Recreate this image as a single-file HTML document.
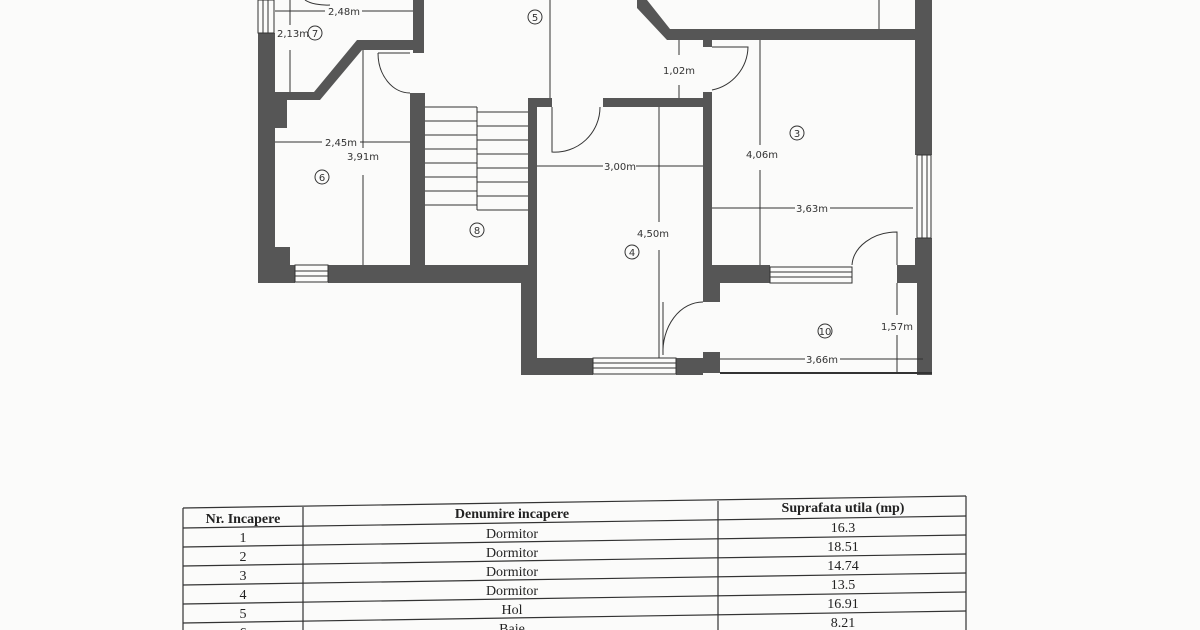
<!DOCTYPE html>
<html><head><meta charset="utf-8"><style>
html,body{margin:0;padding:0;background:#fbfbfa;}
svg{display:block}
.w{fill:#565656}
.l{stroke:#333;stroke-width:1;fill:none}
.t{font-family:"DejaVu Sans","Liberation Sans",sans-serif;font-size:10px;fill:#333}
.tb{font-family:"Liberation Serif",serif;font-size:14px;fill:#222}
</style></head><body>
<svg width="1200" height="630" viewBox="0 0 1200 630" xmlns="http://www.w3.org/2000/svg">
<rect width="1200" height="630" fill="#fbfbfa"/>
<!-- walls -->
<g class="w">
<rect x="258" y="33" width="17" height="250"/>
<rect x="275" y="100" width="12" height="28"/>
<rect x="275" y="247" width="15" height="18"/>
<rect x="258" y="265" width="37" height="18"/>
<rect x="328" y="265" width="209" height="18"/>
<rect x="410" y="93" width="15" height="172"/>
<rect x="413" y="0" width="11" height="53"/>
<polygon points="275,92 314,92 357,40 413,40 413,50 362,50 320,100 275,100"/>
<rect x="528" y="98" width="9" height="170"/>
<rect x="537" y="98" width="15" height="9"/>
<rect x="603" y="98" width="109" height="9"/>
<rect x="703" y="92" width="9" height="175"/>
<rect x="703" y="40" width="9" height="7"/>
<rect x="521" y="265" width="16" height="110"/>
<rect x="521" y="358" width="72" height="17"/>
<rect x="676" y="358" width="27" height="17"/>
<rect x="703" y="352" width="17" height="21"/>
<rect x="703" y="265" width="67" height="18"/>
<rect x="703" y="265" width="17" height="37"/>
<rect x="897" y="265" width="35" height="18"/>
<rect x="917" y="283" width="15" height="92"/>
<polygon points="637,0 647,0 670,29 918,29 918,40 667,40 637,8"/>
<rect x="915" y="0" width="17" height="155"/>
<rect x="915" y="238" width="17" height="30"/>
</g>
<!-- windows -->
<g class="l">
<rect x="258" y="0" width="16" height="33"/><line x1="263" y1="0" x2="263" y2="33"/><line x1="268" y1="0" x2="268" y2="33"/>
<rect x="295" y="265" width="33" height="17"/><line x1="295" y1="271" x2="328" y2="271"/><line x1="295" y1="276" x2="328" y2="276"/>
<rect x="593" y="358" width="83" height="16"/><line x1="593" y1="363" x2="676" y2="363"/><line x1="593" y1="368" x2="676" y2="368"/>
<rect x="770" y="267" width="82" height="16"/><line x1="770" y1="272" x2="852" y2="272"/><line x1="770" y1="277" x2="852" y2="277"/>
<rect x="917" y="155" width="14" height="83"/><line x1="922" y1="155" x2="922" y2="238"/><line x1="927" y1="155" x2="927" y2="238"/>
<line x1="720" y1="373" x2="932" y2="373" style="stroke-width:2"/>
<!-- doors -->
<path d="M378,53 A32,40 0 0 0 410,93"/><line x1="378" y1="53" x2="410" y2="53"/>
<path d="M552,107 L552,152 A45,45 0 0 0 600,107"/>
<path d="M712,47 L748,47 A45,45 0 0 1 712,90"/>
<path d="M663,355 A40,50 0 0 1 703,302"/><line x1="663" y1="302" x2="663" y2="355"/>
<path d="M852,265 A45,35 0 0 1 897,232 L897,265"/>
<path d="M305,0 A25,10 0 0 0 330,5"/>
<!-- stairs -->
<g>
<line x1="425" y1="107" x2="477" y2="107"/><line x1="425" y1="121" x2="477" y2="121"/><line x1="425" y1="135" x2="477" y2="135"/><line x1="425" y1="149" x2="477" y2="149"/><line x1="425" y1="163" x2="477" y2="163"/><line x1="425" y1="177" x2="477" y2="177"/><line x1="425" y1="191" x2="477" y2="191"/><line x1="425" y1="205" x2="477" y2="205"/>
<line x1="477" y1="107" x2="477" y2="210"/>
<line x1="477" y1="112" x2="528" y2="112"/><line x1="477" y1="126" x2="528" y2="126"/><line x1="477" y1="140" x2="528" y2="140"/><line x1="477" y1="154" x2="528" y2="154"/><line x1="477" y1="168" x2="528" y2="168"/><line x1="477" y1="182" x2="528" y2="182"/><line x1="477" y1="196" x2="528" y2="196"/><line x1="477" y1="210" x2="528" y2="210"/>
</g>
<!-- dimension lines -->
<line x1="275" y1="11" x2="325" y2="11"/><line x1="362" y1="11" x2="413" y2="11"/>
<line x1="290" y1="0" x2="290" y2="25"/><line x1="290" y1="50" x2="290" y2="92"/>
<line x1="275" y1="142" x2="322" y2="142"/><line x1="360" y1="142" x2="410" y2="142"/>
<line x1="363" y1="50" x2="363" y2="148"/><line x1="363" y1="175" x2="363" y2="265"/>
<line x1="550" y1="0" x2="550" y2="98"/>
<line x1="537" y1="166" x2="603" y2="166"/><line x1="636" y1="166" x2="703" y2="166"/>
<line x1="659" y1="107" x2="659" y2="222"/><line x1="659" y1="250" x2="659" y2="358"/>
<line x1="679" y1="40" x2="679" y2="55"/><line x1="679" y1="85" x2="679" y2="98"/>
<line x1="760" y1="40" x2="760" y2="145"/><line x1="760" y1="170" x2="760" y2="265"/>
<line x1="712" y1="208" x2="795" y2="208"/><line x1="830" y1="208" x2="913" y2="208"/>
<line x1="879" y1="0" x2="879" y2="29"/>
<line x1="720" y1="359" x2="805" y2="359"/><line x1="840" y1="359" x2="923" y2="359"/>
<line x1="897" y1="283" x2="897" y2="315"/><line x1="897" y1="335" x2="897" y2="373"/>
<!-- circles -->
<circle cx="315" cy="33" r="7"/><circle cx="322" cy="177" r="7"/><circle cx="477" cy="230" r="7"/>
<circle cx="535" cy="17" r="7"/><circle cx="632" cy="252" r="7"/><circle cx="797" cy="133" r="7"/><circle cx="825" cy="331" r="7"/>
</g>
<g class="t" text-anchor="middle">
<text x="344" y="15">2,48m</text>
<text x="293" y="37">2,13m</text>
<text x="315" y="37">7</text>
<text x="341" y="146">2,45m</text>
<text x="363" y="160">3,91m</text>
<text x="322" y="181">6</text>
<text x="477" y="234">8</text>
<text x="535" y="21">5</text>
<text x="679" y="74">1,02m</text>
<text x="620" y="170">3,00m</text>
<text x="653" y="237">4,50m</text>
<text x="632" y="256">4</text>
<text x="762" y="158">4,06m</text>
<text x="797" y="137">3</text>
<text x="812" y="212">3,63m</text>
<text x="825" y="335">10</text>
<text x="897" y="330">1,57m</text>
<text x="822" y="363">3,66m</text>
</g>
<!-- table -->
<g stroke="#333" stroke-width="1.2" fill="none">
<line x1="183" y1="508" x2="966" y2="496"/>
<line x1="183" y1="508" x2="183" y2="630"/>
<line x1="303" y1="507" x2="303" y2="630"/>
<line x1="718" y1="501" x2="718" y2="630"/>
<line x1="966" y1="496" x2="966" y2="630"/>
<line x1="183" y1="528" x2="966" y2="516"/>
<line x1="183" y1="547" x2="966" y2="535"/>
<line x1="183" y1="566" x2="966" y2="554"/>
<line x1="183" y1="585" x2="966" y2="573"/>
<line x1="183" y1="604" x2="966" y2="592"/>
<line x1="183" y1="623" x2="966" y2="611"/>
</g>
<g class="tb" text-anchor="middle">
<text x="243" y="523" font-weight="bold">Nr. Incapere</text>
<text x="512" y="518" font-weight="bold">Denumire incapere</text>
<text x="843" y="512" font-weight="bold">Suprafata utila (mp)</text>
<text x="243" y="542">1</text><text x="512" y="538">Dormitor</text><text x="843" y="532">16.3</text>
<text x="243" y="561">2</text><text x="512" y="557">Dormitor</text><text x="843" y="551">18.51</text>
<text x="243" y="580">3</text><text x="512" y="576">Dormitor</text><text x="843" y="570">14.74</text>
<text x="243" y="599">4</text><text x="512" y="595">Dormitor</text><text x="843" y="589">13.5</text>
<text x="243" y="618">5</text><text x="512" y="614">Hol</text><text x="843" y="608">16.91</text>
<text x="243" y="637">6</text><text x="512" y="633">Baie</text><text x="843" y="627">8.21</text>
</g>
</svg>
</body></html>
